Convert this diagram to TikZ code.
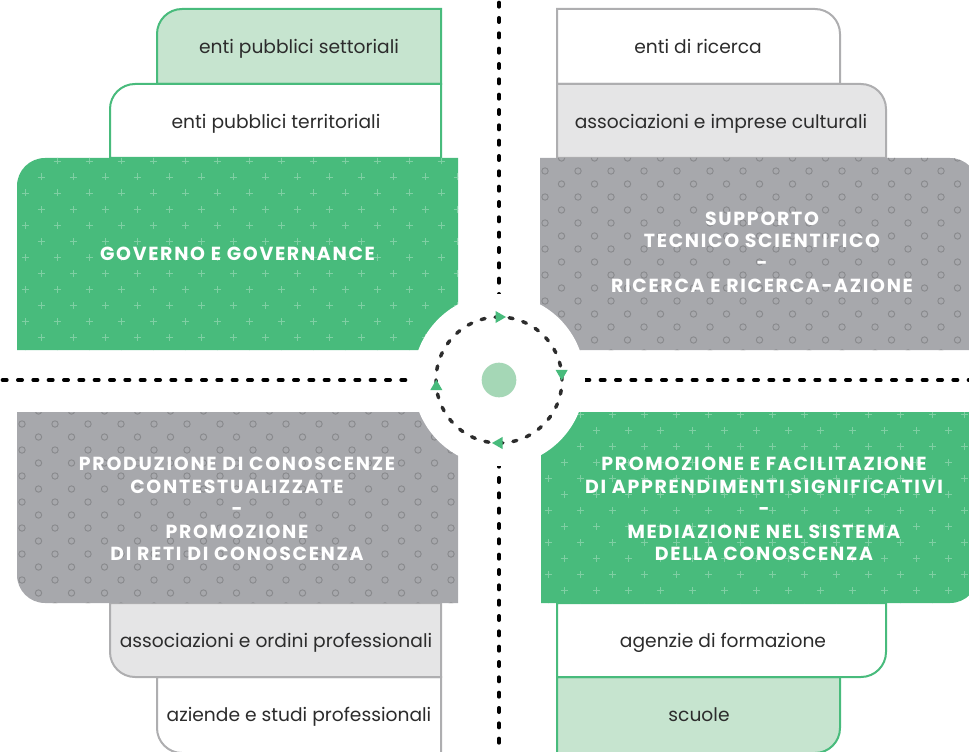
\documentclass[tikz,border=0pt]{standalone}
\usepackage{fontspec}
\setmainfont{Poppins}
\newfontfamily\headfont{Poppins}[LetterSpace=9]
\usetikzlibrary{shapes.geometric}
\definecolor{boxgreen}{HTML}{48BB7C}
\definecolor{palegreen}{HTML}{C6E4CF}
\definecolor{boxgrey}{HTML}{A7A8AC}
\definecolor{linegrey}{HTML}{AEAEB0}
\definecolor{palegrey}{HTML}{E5E5E6}
\definecolor{dotgreen}{HTML}{A5D7B6}
\definecolor{inkgrey}{HTML}{2C2C2C}
\newcommand{\crossgrid}[2]{%
	\foreach \j [evaluate=\j as \off using {16*mod(\j,2)}] in {0,...,13}
		\foreach \i in {0,...,14}
			\draw[boxgreen!70!white,line width=0.7pt,shift={(#1+\i*32+\off,#2+\j*16)}](-3.5,0)--(3.5,0)(0,-3.5)--(0,3.5);}
\newcommand{\ringgrid}[2]{%
	\foreach \j [evaluate=\j as \off using {16.5*mod(\j,2)}] in {0,...,15}
		\foreach \i in {0,...,14}
			\draw[boxgrey!82!black,line width=0.7pt](#1+\i*33+\off,#2+\j*13)circle[radius=3.2];}
\begin{document}
\begin{tikzpicture}[x=0.75pt,y=0.75pt]
	\tikzstyle{small label}=[font=\fontsize{14}{16}\selectfont,text=inkgrey,inner sep=0,anchor=base,yshift=-5.6pt]
	\tikzstyle{big label}=[font=\headfont\bfseries\fontsize{14.2}{16.8}\selectfont,text=white,align=center,inner sep=0]
	\tikzset{
		green edge/.style={draw=boxgreen,line width=1.5pt},
		grey edge/.style={draw=linegrey,line width=1.5pt},
		axis dots/.style={line width=3pt,line cap=round,dash pattern=on 3pt off 8.5pt,dash phase=-2pt,draw=black},
		ring/.style={line width=2.6pt,line cap=round,dash pattern=on 3pt off 7.6pt,draw=inkgrey},
		ring tip/.style={regular polygon,regular polygon sides=3,fill=boxgreen,inner sep=0,minimum size=10.5pt}
	}
	\useasboundingbox(0,0)rectangle(969,751);
	\coordinate(north end)at(499,751);
	\coordinate(south end)at(499,-5);
	\coordinate(west end)at(0,371);
	\coordinate(east end)at(969,371);
	\coordinate(centre)at(499,371);
	\filldraw[green edge,fill=palegreen](157,667)--(157,717)arc[start angle=180,end angle=90,radius=25]--(441,742)--(441,667)--cycle;
	\filldraw[green edge,fill=white](110,593)--(110,642)arc[start angle=180,end angle=90,radius=25]--(441,667)--(441,593)--cycle;
	\fill[boxgreen,path picture={\crossgrid{25}{398}}](17,401)--(17,565)arc[start angle=180,end angle=90,radius=28]--(458,593)--(458,401)--cycle;
	\filldraw[grey edge,fill=white](557,667)--(557,742)--(815,742)arc[start angle=90,end angle=0,radius=25]--(840,667)--cycle;
	\filldraw[grey edge,fill=palegrey](557,593)--(557,667)--(861,667)arc[start angle=90,end angle=0,radius=25]--(886,593)--cycle;
	\fill[boxgrey,path picture={\ringgrid{545}{398}}](540,401)--(540,593)--(950,593)arc[start angle=90,end angle=0,radius=28]--(978,401)--cycle;
	\filldraw[grey edge,fill=white](157,74)--(157,23)arc[start angle=180,end angle=270,radius=25]--(441,-2)--(441,74)--cycle;
	\filldraw[grey edge,fill=palegrey](110,148)--(110,99)arc[start angle=180,end angle=270,radius=25]--(441,74)--(441,148)--cycle;
	\fill[boxgrey,path picture={\ringgrid{22}{145}}](17,339)--(17,176)arc[start angle=180,end angle=270,radius=28]--(458,148)--(458,339)--cycle;
	\filldraw[green edge,fill=palegreen](557,74)--(557,-2)--(815,-2)arc[start angle=270,end angle=360,radius=25]--(840,74)--cycle;
	\filldraw[green edge,fill=white](557,148)--(557,74)--(861,74)arc[start angle=270,end angle=360,radius=25]--(886,148)--cycle;
	\fill[boxgreen,path picture={\crossgrid{548}{145}}](541,339)--(541,148)--(950,148)arc[start angle=270,end angle=360,radius=28]--(978,339)--cycle;
	\draw[axis dots](north end)--(south end);
	\draw[axis dots](west end)--(east end);
	\fill[white](centre)circle[radius=86];
	\draw[ring](centre)circle[radius=63];
	\node(hub)[circle,fill=dotgreen,minimum size=26pt,inner sep=0]at(centre){};
	\node(tip n)[ring tip,rotate=-90]at([shift={(90:63)}]centre){};
	\node(tip e)[ring tip,rotate=180]at([shift={(6:63)}]centre){};
	\node(tip s)[ring tip,rotate=90]at([shift={(270:63)}]centre){};
	\node(tip w)[ring tip]at([shift={(186:63)}]centre){};
	\node(settoriali)[small label]at(299,705){enti pubblici settoriali};
	\node(territoriali)[small label]at(276,630){enti pubblici territoriali};
	\node(ricerca)[small label]at(698,705){enti di ricerca};
	\node(culturali)[small label]at(721,630){associazioni e imprese culturali};
	\node(ordini)[small label]at(276,111){associazioni e ordini professionali};
	\node(aziende)[small label]at(299,37){aziende e studi professionali};
	\node(formazione)[small label]at(723,111){agenzie di formazione};
	\node(scuole)[small label]at(699,37){scuole};
	\node(governo)[big label]at(237.5,497){GOVERNO E GOVERNANCE};
	\node(supporto)[big label]at(762,499){SUPPORTO\\TECNICO SCIENTIFICO\\-\\RICERCA E RICERCA-AZIONE};
	\node(produzione)[big label]at(237,242){PRODUZIONE DI CONOSCENZE\\CONTESTUALIZZATE\\-\\PROMOZIONE\\DI RETI DI CONOSCENZA};
	\node(promozione)[big label]at(764,242){PROMOZIONE E FACILITAZIONE\\DI APPRENDIMENTI SIGNIFICATIVI\\-\\MEDIAZIONE NEL SISTEMA\\DELLA CONOSCENZA};
\end{tikzpicture}
\end{document}
